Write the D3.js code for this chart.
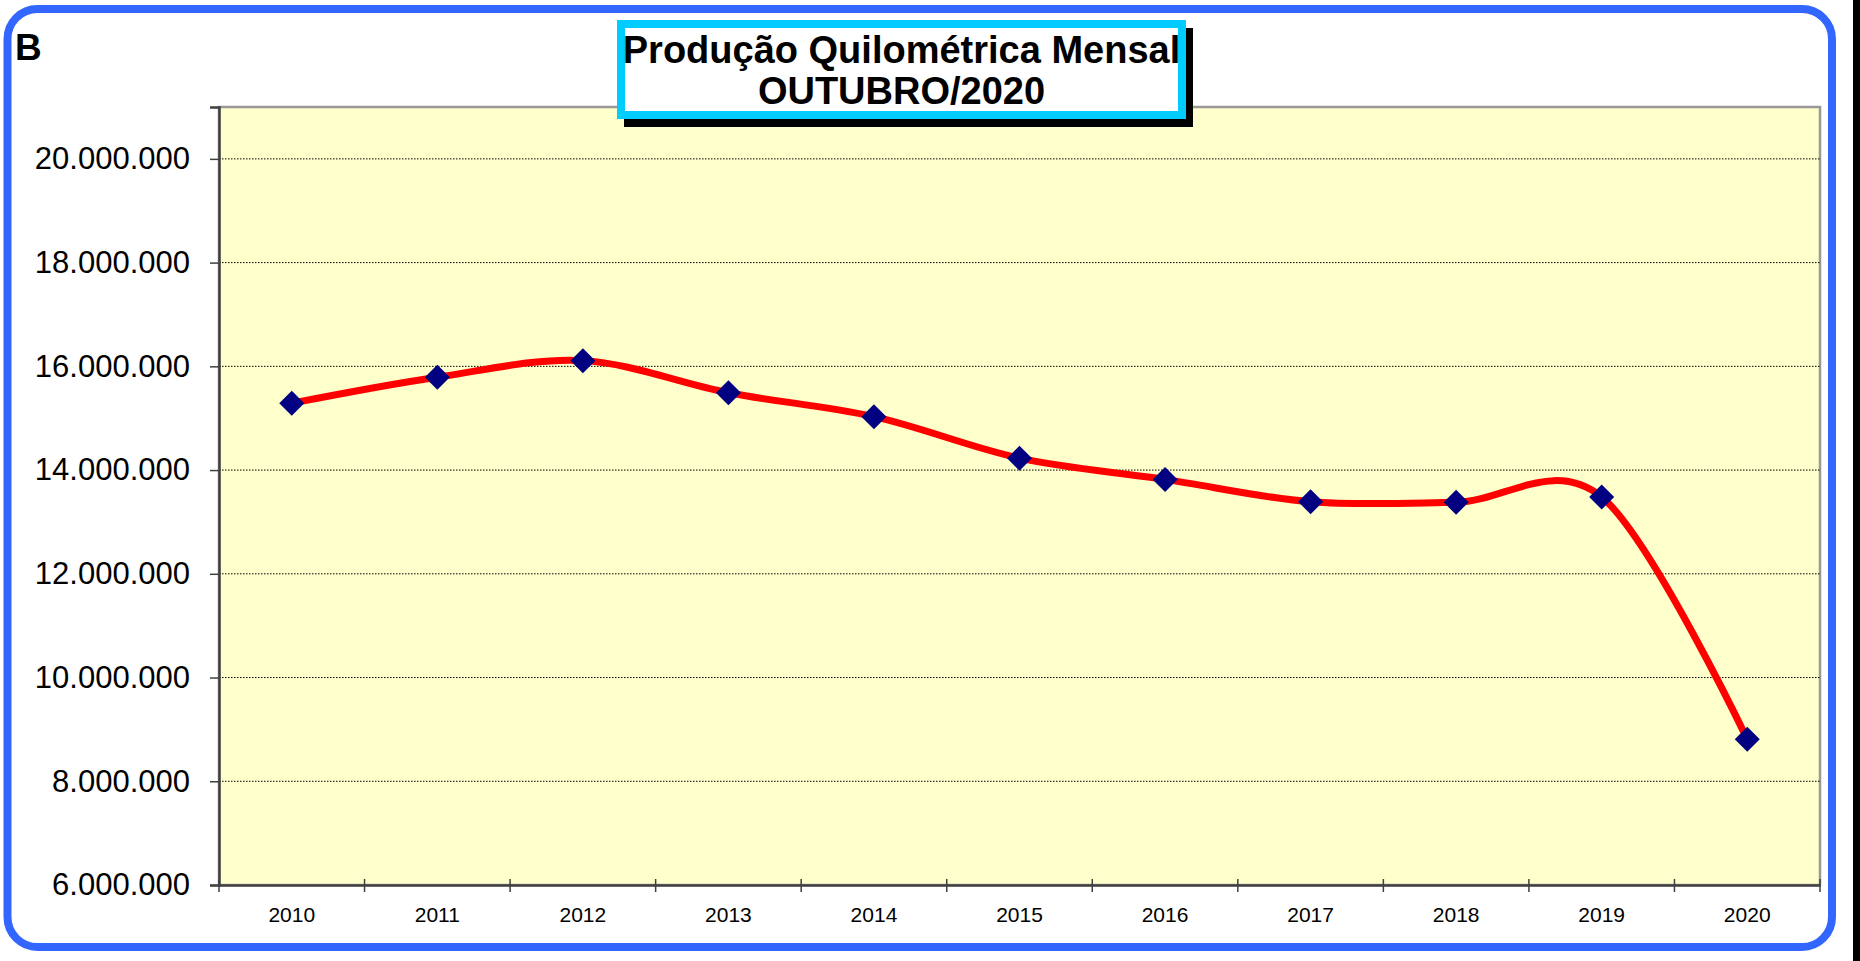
<!DOCTYPE html>
<html>
<head>
<meta charset="utf-8">
<script src="https://cdn.jsdelivr.net/npm/d3@7"></script>
<style>
  html, body { margin: 0; padding: 0; background: #ffffff; }
  svg { display: block; font-family: "Liberation Sans", Arial, sans-serif; }
</style>
</head>
<body>
<svg id="chart" width="1860" height="961"></svg>
<script>
// ---- Data ----
const years = ["2010","2011","2012","2013","2014","2015","2016","2017","2018","2019","2020"];
const kmValues = [15290000, 15790000, 16110000, 15490000, 15030000, 14230000, 13820000, 13390000, 13380000, 13480000, 8810000];
const yTicks = [6000000, 8000000, 10000000, 12000000, 14000000, 16000000, 18000000, 20000000];
const titleLines = ["Produção Quilométrica Mensal", "OUTUBRO/2020"];
const panelLabel = "B";

// ---- Layout ----
const W = 1860, H = 961;
const plot = { left: 219, right: 1820, top: 107, bottom: 885 };

const svg = d3.select("#chart");

// black strip at right edge
svg.append("rect").attr("x", 1853).attr("y", 0).attr("width", 7).attr("height", H).attr("fill", "#000");

// outer rounded blue border
svg.append("rect")
  .attr("x", 7.5).attr("y", 9).attr("width", 1832 - 7.5).attr("height", 947 - 9)
  .attr("rx", 30).attr("ry", 30)
  .attr("fill", "#fff").attr("stroke", "#3366FF").attr("stroke-width", 8);

// panel label
svg.append("text").attr("x", 15).attr("y", 60)
  .attr("font-size", 37).attr("font-weight", "bold").attr("fill", "#000")
  .text(panelLabel);

// scales
const x = d3.scaleBand().domain(years).range([plot.left, plot.right]).padding(0);
const y = d3.scaleLinear().domain([6000000, 21000000]).range([plot.bottom, plot.top]);

// plot background
svg.append("rect")
  .attr("x", plot.left).attr("y", plot.top)
  .attr("width", plot.right - plot.left).attr("height", plot.bottom - plot.top)
  .attr("fill", "#FFFFCC").attr("stroke", "#999").attr("stroke-width", 2.5);

// gridlines
svg.append("g").selectAll("line")
  .data(yTicks.filter(d => d > 6000000))
  .join("line")
  .attr("x1", plot.left).attr("x2", plot.right)
  .attr("y1", d => y(d)).attr("y2", d => y(d))
  .attr("stroke", "#000").attr("stroke-width", 1).attr("stroke-dasharray", "1.5,1.5");

// y axis
const loc = d3.formatLocale({ decimal: ",", thousands: ".", grouping: [3], currency: ["", ""] });
const fmt = loc.format(",.0f");
const yAxis = svg.append("g")
  .attr("transform", `translate(${plot.left},0)`)
  .call(d3.axisLeft(y).tickValues(yTicks).tickFormat(fmt).tickSize(9).tickPadding(20));
yAxis.select(".domain").attr("stroke", "#404040").attr("stroke-width", 2.5);
yAxis.selectAll(".tick line").attr("stroke", "#404040").attr("stroke-width", 1.5);
yAxis.selectAll(".tick text")
  .attr("font-size", 31).attr("fill", "#000")
  .attr("font-family", "'Liberation Sans', Arial, sans-serif");

// x axis
const xAxis = svg.append("g")
  .attr("transform", `translate(0,${plot.bottom})`)
  .call(d3.axisBottom(x).tickSize(0).tickPadding(22));
xAxis.select(".domain").attr("stroke", "#404040").attr("stroke-width", 2.5);
xAxis.selectAll(".tick text")
  .attr("font-size", 21).attr("fill", "#000")
  .attr("font-family", "'Liberation Sans', Arial, sans-serif");
// boundary tick marks
const bounds = years.map(d => x(d)).concat([x.range()[1]]);
xAxis.selectAll(".bnd").data(bounds).join("line")
  .attr("class", "bnd")
  .attr("x1", d => d).attr("x2", d => d)
  .attr("y1", -6).attr("y2", 7)
  .attr("stroke", "#404040").attr("stroke-width", 1.5);

// line
const pts = years.map((d, i) => [x(d) + x.bandwidth() / 2, y(kmValues[i])]);
svg.append("path")
  .datum(pts)
  .attr("d", d3.line().curve(d3.curveCardinal.tension(0)))
  .attr("fill", "none").attr("stroke", "#FF0000").attr("stroke-width", 7)
  .attr("stroke-linejoin", "round");

// markers
svg.append("g").selectAll("path")
  .data(pts)
  .join("path")
  .attr("transform", d => `translate(${d[0]},${d[1]})`)
  .attr("d", "M0,-12.5L12.5,0L0,12.5L-12.5,0Z")
  .attr("fill", "#000080");

// title box with shadow
const tb = { x: 621, y: 24, w: 561, h: 91 };
svg.append("rect")
  .attr("x", tb.x - 4 + 7).attr("y", tb.y - 4 + 8).attr("width", tb.w + 8).attr("height", tb.h + 8)
  .attr("fill", "#000");
svg.append("rect")
  .attr("x", tb.x).attr("y", tb.y).attr("width", tb.w).attr("height", tb.h)
  .attr("fill", "#fff").attr("stroke", "#00CCFF").attr("stroke-width", 8);
const cx = tb.x + tb.w / 2;
svg.append("g").selectAll("text")
  .data(titleLines)
  .join("text")
  .attr("x", cx).attr("y", (d, i) => 63 + i * 41)
  .attr("text-anchor", "middle")
  .attr("font-size", 38).attr("font-weight", "bold").attr("fill", "#000")
  .text(d => d);
</script>
</body>
</html>
